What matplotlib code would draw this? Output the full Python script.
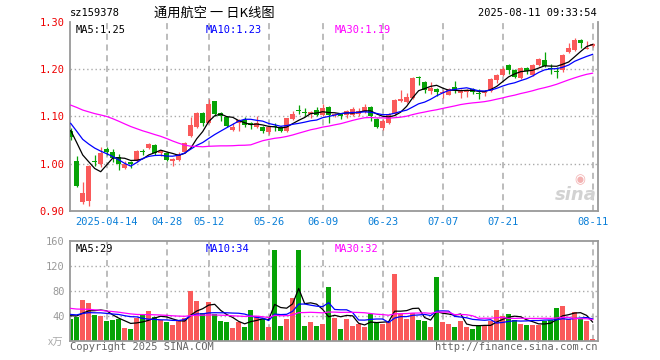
import numpy as np
import pandas as pd
import matplotlib
matplotlib.use("Agg")
import matplotlib.pyplot as plt

# trading days shown (Chinese market holidays removed)
holidays = ["2025-04-04", "2025-05-01", "2025-05-02", "2025-05-05", "2025-06-02"]
days = pd.bdate_range("2025-04-03", "2025-08-11")
days = days[~days.isin(pd.to_datetime(holidays))]
dates = [d.strftime("%Y-%m-%d") for d in days]

# daily OHLC
opens = [1.068, 1.006, 0.920, 0.922, 1.006, 1.000, 1.032, 1.025, 1.015, 0.990,
         1.003, 1.005, 1.027, 1.033, 1.040, 1.022, 1.023, 1.006, 1.008, 1.024,
         1.059, 1.077, 1.108, 1.087, 1.133, 1.107, 1.098, 1.072, 1.086, 1.092,
         1.085, 1.078, 1.078, 1.066, 1.080, 1.078, 1.068, 1.094, 1.114, 1.109,
         1.104, 1.113, 1.102, 1.120, 1.103, 1.106, 1.103, 1.103, 1.104, 1.110,
         1.120, 1.094, 1.076, 1.085, 1.104, 1.133, 1.131, 1.138, 1.184, 1.173,
         1.154, 1.157, 1.149, 1.146, 1.163, 1.150, 1.152, 1.157, 1.149, 1.149,
         1.154, 1.176, 1.188, 1.208, 1.197, 1.182, 1.202, 1.188, 1.209, 1.219,
         1.202, 1.195, 1.197, 1.235, 1.241, 1.262, 1.243, 1.248]
highs = [1.075, 1.017, 0.962, 0.998, 1.018, 1.035, 1.036, 1.030, 1.020, 1.005,
         1.006, 1.028, 1.031, 1.044, 1.042, 1.029, 1.025, 1.012, 1.024, 1.045,
         1.098, 1.110, 1.110, 1.137, 1.133, 1.110, 1.100, 1.085, 1.095, 1.098,
         1.088, 1.101, 1.080, 1.080, 1.087, 1.080, 1.097, 1.112, 1.125, 1.117,
         1.112, 1.120, 1.127, 1.122, 1.108, 1.108, 1.113, 1.119, 1.117, 1.127,
         1.122, 1.096, 1.094, 1.108, 1.136, 1.156, 1.150, 1.183, 1.186, 1.175,
         1.172, 1.159, 1.155, 1.160, 1.174, 1.158, 1.157, 1.159, 1.157, 1.155,
         1.180, 1.190, 1.204, 1.210, 1.200, 1.204, 1.204, 1.211, 1.223, 1.235,
         1.210, 1.204, 1.232, 1.254, 1.266, 1.264, 1.259, 1.255]
lows = [1.050, 0.950, 0.915, 0.911, 0.996, 0.993, 1.018, 1.004, 0.987, 0.988,
        0.990, 1.003, 1.018, 1.030, 1.018, 1.017, 1.005, 0.996, 1.006, 1.022,
        1.057, 1.076, 1.080, 1.085, 1.100, 1.090, 1.078, 1.070, 1.070, 1.077,
        1.074, 1.076, 1.065, 1.062, 1.068, 1.066, 1.066, 1.092, 1.105, 1.100,
        1.096, 1.100, 1.100, 1.086, 1.099, 1.094, 1.096, 1.100, 1.101, 1.108,
        1.091, 1.075, 1.072, 1.083, 1.102, 1.131, 1.128, 1.136, 1.166, 1.149,
        1.148, 1.142, 1.138, 1.145, 1.150, 1.138, 1.140, 1.147, 1.137, 1.142,
        1.152, 1.170, 1.185, 1.190, 1.180, 1.178, 1.190, 1.186, 1.207, 1.204,
        1.190, 1.181, 1.193, 1.233, 1.238, 1.244, 1.242, 1.247]
closes = [1.057, 0.953, 0.939, 0.996, 1.004, 1.023, 1.025, 1.011, 0.999, 0.999,
          1.000, 1.027, 1.025, 1.041, 1.023, 1.027, 1.008, 1.009, 1.021, 1.044,
          1.081, 1.108, 1.085, 1.127, 1.105, 1.100, 1.080, 1.078, 1.092, 1.082,
          1.081, 1.086, 1.068, 1.077, 1.077, 1.069, 1.096, 1.104, 1.112, 1.107,
          1.110, 1.102, 1.118, 1.103, 1.105, 1.100, 1.111, 1.115, 1.112, 1.120,
          1.100, 1.078, 1.091, 1.105, 1.134, 1.136, 1.140, 1.181, 1.180, 1.156,
          1.160, 1.151, 1.152, 1.157, 1.155, 1.156, 1.155, 1.151, 1.147, 1.152,
          1.178, 1.188, 1.201, 1.198, 1.183, 1.202, 1.195, 1.209, 1.221, 1.207,
          1.199, 1.193, 1.230, 1.245, 1.262, 1.255, 1.245, 1.253]
# volume, unit 10k shares
volumes = [34.7, 38.4, 65, 60.8, 41.6, 40, 31.5, 33, 34.7, 20.3,
           18.7, 35.7, 41, 47.5, 38.4, 33, 30.4, 25, 33, 35.7,
           80, 63.5, 43.7, 61.9, 42, 31.5, 30.4, 20.3, 30.4, 22.4,
           49, 40, 34, 22.4, 145, 24, 34.7, 68.8, 145, 24,
           30.4, 24, 26.7, 86.4, 35.7, 18.7, 34.7, 23.5, 26.7, 22.4,
           42, 30.4, 26.7, 30.4, 106.7, 42, 34.7, 43.7, 33, 31.5,
           22.4, 102.4, 30.4, 26.7, 22.4, 31.5, 22.4, 18.7, 25, 25,
           31.5, 49, 40, 42.7, 33, 26.7, 25, 25, 25, 32,
           33, 53, 56, 34, 45.3, 35.7, 31.5, 2.7]

# sessions before the window (only feed the moving averages at the left edge)
prior_close = [1.100, 1.105, 1.110, 1.115, 1.110, 1.120, 1.150, 1.160, 1.170, 1.165,
               1.165, 1.160, 1.155, 1.145, 1.140, 1.150, 1.165, 1.160, 1.160, 1.155,
               1.120, 1.110, 1.095, 1.090, 1.087, 1.080, 1.070, 1.068, 1.075]
prior_volume = [70, 72, 65, 68, 64, 64, 60, 65, 62, 58,
                62, 48, 50, 45, 44, 47, 46, 48, 45, 48,
                45, 42, 48, 44, 41, 40, 43, 42, 40]

price_ticks = [0.90, 1.00, 1.10, 1.20, 1.30]
vol_ticks = [40, 80, 120, 160]
date_ticks = ["2025-04-14", "2025-04-28", "2025-05-12", "2025-05-26", "2025-06-09",
              "2025-06-23", "2025-07-07", "2025-07-21", "2025-08-11"]
date_labels = ["2025-04-14", "04-28", "05-12", "05-26", "06-09",
               "06-23", "07-07", "07-21", "08-11"]

RED = "#fa5a5a"
GREEN = "#06a306"
GRID = "#aaaaaa"
MONO = "DejaVu Sans Mono"

o = np.array(opens)
h = np.array(highs)
l = np.array(lows)
c = np.array(closes)
v = np.array(volumes)
n = len(c)
x = np.arange(n)
up = c >= o
colors = np.where(up, RED, GREEN)

all_c = pd.Series(prior_close + closes)
all_v = pd.Series(prior_volume + volumes)
k = len(prior_close)
ma = {p: all_c.rolling(p).mean().values[k:] for p in (5, 10, 30)}
vma = {p: all_v.rolling(p).mean().values[k:] for p in (5, 10, 30)}
ma_colors = {5: "black", 10: "#0000ff", 30: "#ff00ff"}

fig = plt.figure(figsize=(6.6, 3.6), dpi=100)
W, H = 660, 360
ax = fig.add_axes([70 / W, 1 - 211 / H, 528 / W, (211 - 21.7) / H])
axv = fig.add_axes([70 / W, 1 - 340.7 / H, 528 / W, 100 / H])

tick_pos = [dates.index(d) for d in date_ticks]

for a in (ax, axv):
    a.set_xlim(-0.12, n - 0.1)
    for t in tick_pos:
        a.axvline(t, color=GRID, lw=1.1, ls=(0, (4, 3)), zorder=0)
    for s in ("left", "bottom", "right", "top"):
        a.spines[s].set_color("#999999")
        a.spines[s].set_linewidth(1.3)
    a.tick_params(length=0)

ax.spines["top"].set_visible(False)

# candles
ax.vlines(x, l, h, colors=colors, lw=0.9, zorder=2)
body = np.maximum(np.abs(c - o), 0.0012)
ax.bar(x, body, bottom=np.minimum(o, c), width=0.8, color=colors, zorder=3)
for p in (5, 10, 30):
    ax.plot(x, ma[p], color=ma_colors[p], lw=0.9, zorder=4)

ax.set_ylim(0.90, 1.30)
ax.set_yticks(price_ticks)
ax.set_yticklabels([f"{t:.2f}" for t in price_ticks], color="#ee0000",
                   fontsize=7.5, family=MONO)
for t in price_ticks[1:-1]:
    ax.axhline(t, color=GRID, lw=1, ls=(0, (1, 2)), zorder=0)
ax.set_xticks(tick_pos)
ax.set_xticklabels(date_labels, color="#0a7fd8", fontsize=7.5, family=MONO)
ax.tick_params(axis="y", pad=4)
ax.tick_params(axis="x", pad=4)

ax.text(0.01, 0.985, "MA5:1.25", transform=ax.transAxes, va="top",
        fontsize=7.5, family=MONO, color="black")
ax.text(0.256, 0.985, "MA10:1.23", transform=ax.transAxes, va="top",
        fontsize=7.5, family=MONO, color="#0000ff")
ax.text(0.502, 0.985, "MA30:1.19", transform=ax.transAxes, va="top",
        fontsize=7.5, family=MONO, color="#ff00ff")

# sina watermark
ax.text(0.998, 0.035, "sina", transform=ax.transAxes, ha="right", va="bottom",
        fontsize=13, fontweight="bold", style="italic", color="#d2d2d2", zorder=1)
ax.text(0.965, 0.165, "◉", transform=ax.transAxes, ha="center", va="center",
        fontsize=9, color="#f3b2b2", zorder=1)

# volume
axv.bar(x, v, width=0.8, color=colors, zorder=2)
for p in (5, 10, 30):
    axv.plot(x, vma[p], color=ma_colors[p], lw=0.9, zorder=4)
axv.set_ylim(0, 160)
axv.set_yticks(vol_ticks)
axv.set_yticklabels([str(t) for t in vol_ticks], color="#999999",
                    fontsize=7.5, family=MONO)
for t in vol_ticks[:-1]:
    axv.axhline(t, color=GRID, lw=1, ls=(0, (1, 2)), zorder=0)
axv.set_xticks([])
axv.tick_params(axis="y", pad=4)

axv.text(0.01, 0.97, "MA5:29", transform=axv.transAxes, va="top",
         fontsize=7.5, family=MONO, color="black")
axv.text(0.256, 0.97, "MA10:34", transform=axv.transAxes, va="top",
         fontsize=7.5, family=MONO, color="#0000ff")
axv.text(0.502, 0.97, "MA30:32", transform=axv.transAxes, va="top",
         fontsize=7.5, family=MONO, color="#ff00ff")

# header and footer
fig.text(70 / W, 1 - 13 / H, "sz159378", fontsize=7.5, family=MONO, va="center")
fig.text(214 / W, 1 - 13 / H, "通用航空 一 日K线图", fontsize=9.5,
         family=["Noto Sans CJK SC", "DejaVu Sans"], ha="center", va="center")
fig.text(597 / W, 1 - 13 / H, "2025-08-11 09:33:54", fontsize=7.5, family=MONO,
         ha="right", va="center")
fig.text(63 / W, 1 - 343 / H, "x万", fontsize=7.5, color="#aaaaaa", style="italic",
         family=["Noto Sans CJK SC", "DejaVu Sans"], ha="right", va="center")
fig.text(70 / W, 1 - 347 / H, "Copyright 2025 SINA.COM", fontsize=7.5,
         family=MONO, color="#666666", va="center")
fig.text(597 / W, 1 - 347 / H, "http://finance.sina.com.cn", fontsize=7.5,
         family=MONO, color="#666666", ha="right", va="center")

fig.savefig("out.png", dpi=100)
